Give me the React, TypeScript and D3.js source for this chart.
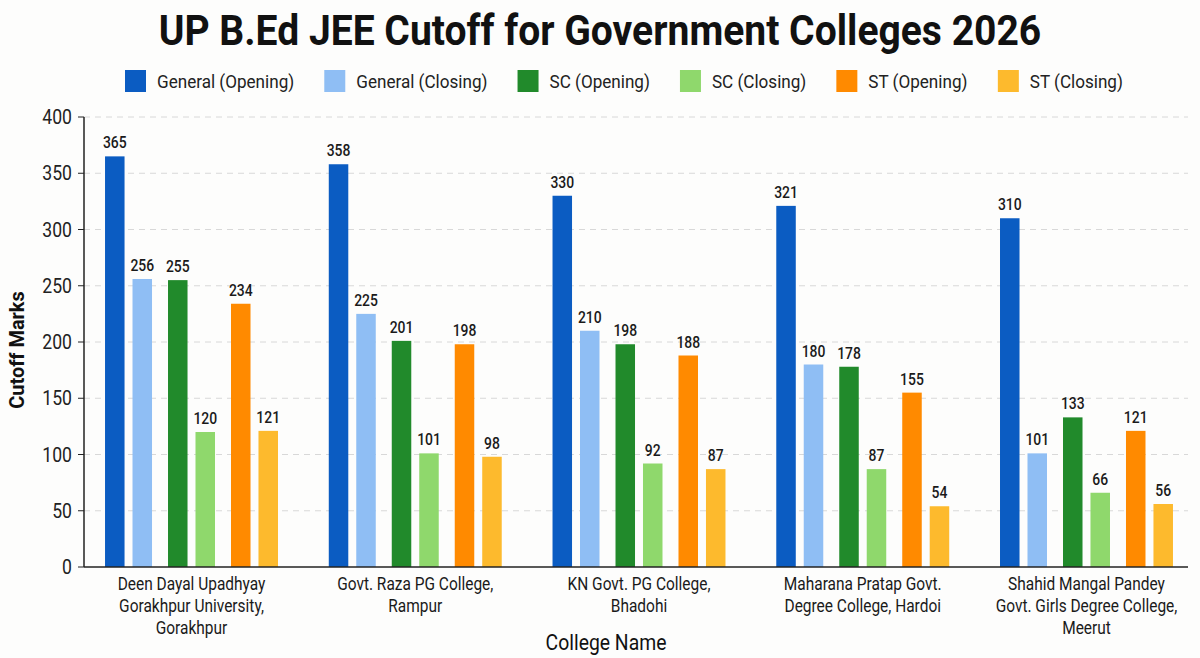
import React, { useMemo } from "react";
import * as d3 from "d3";

const WIDTH = 1200;
const HEIGHT = 658;
const MARGIN = { top: 117, right: 12, bottom: 91, left: 84 };
const FONT = "Roboto, 'Liberation Sans', sans-serif";

// colleges (x axis), each label split into lines
const colleges = [
  ["Deen Dayal Upadhyay", "Gorakhpur University,", "Gorakhpur"],
  ["Govt. Raza  PG College,", "Rampur"],
  ["KN Govt. PG College,", "Bhadohi"],
  ["Maharana Pratap Govt.", "Degree College, Hardoi"],
  ["Shahid Mangal Pandey", "Govt. Girls Degree College,", "Meerut"],
];

const categories = ["General", "SC", "ST"];
const kinds = ["Opening", "Closing"];
const seriesNames = [
  "General (Opening)",
  "General (Closing)",
  "SC (Opening)",
  "SC (Closing)",
  "ST (Opening)",
  "ST (Closing)",
];
const seriesColors = ["#0b5cc2", "#8fbef4", "#218a2b", "#8fd86c", "#ff8a00", "#fdba2d"];

const generalOpening = [365, 358, 330, 321, 310];
const generalClosing = [256, 225, 210, 180, 101];
const scOpening = [255, 201, 198, 178, 133];
const scClosing = [120, 101, 92, 87, 66];
const stOpening = [234, 198, 188, 155, 121];
const stClosing = [121, 98, 87, 54, 56];
const seriesValues = [generalOpening, generalClosing, scOpening, scClosing, stOpening, stClosing];

const yTicks = [0, 50, 100, 150, 200, 250, 300, 350, 400];

const measure = (text: string, font: string) => {
  const ctx = document.createElement("canvas").getContext("2d");
  if (!ctx) return text.length * 8;
  ctx.font = font;
  return ctx.measureText(text).width;
};

// narrow text: squeeze horizontally around its own x
const NText = ({ x = 0, y = 0, sx = 0.88, children, ...rest }: any) => (
  <text transform={`translate(${x},${y}) scale(${sx},1)`} {...rest}>
    {children}
  </text>
);

export default function App() {
  const boundsWidth = WIDTH - MARGIN.left - MARGIN.right;
  const boundsHeight = HEIGHT - MARGIN.top - MARGIN.bottom;
  const groupKeys = colleges.map((c, i) => String(i));

  const x0 = useMemo(
    () =>
      d3.scaleBand().domain(groupKeys).range([0, boundsWidth + 6]).paddingInner(0.227).paddingOuter(0.094),
    [boundsWidth]
  );
  const xCat = useMemo(
    () => d3.scaleBand().domain(categories).range([0, x0.bandwidth()]).paddingInner(0.254),
    [x0]
  );
  const xKind = useMemo(
    () => d3.scaleBand().domain(kinds).range([0, xCat.bandwidth()]).paddingInner(0.29),
    [xCat]
  );
  const y = useMemo(() => d3.scaleLinear().domain([0, 400]).range([boundsHeight, 0]), [boundsHeight]);

  const barX = (si: number) => (xCat(categories[Math.floor(si / 2)]) ?? 0) + (xKind(kinds[si % 2]) ?? 0);
  const barW = xKind.bandwidth();

  // legend layout from measured text widths
  const legendSx = 0.9;
  const legendFont = `19px ${FONT}`;
  const legendItems: any[] = [];
  let cursor = 0;
  seriesNames.forEach((name, i) => {
    const w = measure(name, legendFont) * legendSx;
    legendItems.push({ name, color: seriesColors[i], x: cursor, w });
    cursor += 21 + 11 + w + 30;
  });
  const legendStart = 125;

  return (
    <svg
      width={WIDTH}
      height={HEIGHT}
      style={{ position: "absolute", left: 0, top: 0, background: "#fdfdfc" }}
      fontFamily={FONT}
    >
      <rect width={WIDTH} height={HEIGHT} fill="#fdfdfc" />
      <NText x={WIDTH / 2} y={45} sx={0.93} textAnchor="middle" fontSize={42} fontWeight="bold" fill="#111">
        UP B.Ed JEE Cutoff for Government Colleges 2026
      </NText>

      <g transform={`translate(${legendStart},70)`}>
        {legendItems.map((d) => (
          <g key={d.name} transform={`translate(${d.x},0)`}>
            <rect width={21} height={22} fill={d.color} />
            <NText x={32} y={18} sx={legendSx} fontSize={19} fill="#222">
              {d.name}
            </NText>
          </g>
        ))}
      </g>

      <g transform={`translate(${MARGIN.left},${MARGIN.top})`}>
        {yTicks.map((t) => (
          <g key={t} transform={`translate(0,${y(t)})`}>
            {t > 0 && <line x1={0} x2={boundsWidth} stroke="#d8d8d8" strokeDasharray="6,5" />}
            <line x1={-6} x2={0} stroke="#222" />
            <NText x={-12} y={0} sx={0.88} dy="0.35em" textAnchor="end" fontSize={20} fill="#222">
              {t}
            </NText>
          </g>
        ))}

        {colleges.map((lines, gi) => (
          <g key={gi} transform={`translate(${x0(String(gi))},0)`}>
            {seriesNames.map((s, si) => {
              const v = seriesValues[si][gi];
              const bx = barX(si);
              return (
                <g key={s}>
                  <rect x={bx} y={y(v)} width={barW} height={boundsHeight - y(v)} fill={seriesColors[si]} />
                  <NText
                    x={bx + barW / 2}
                    y={y(v) - 8}
                    sx={0.82}
                    textAnchor="middle"
                    fontSize={17}
                    fontWeight={500}
                    fill="#1a1a1a"
                  >
                    {v}
                  </NText>
                </g>
              );
            })}
            <NText x={x0.bandwidth() / 2} y={0} sx={0.86} textAnchor="middle" fontSize={18} fill="#1a1a1a">
              {lines.map((l, li) => (
                <tspan key={li} x={0} y={boundsHeight + 23 + li * 22}>
                  {l}
                </tspan>
              ))}
            </NText>
          </g>
        ))}

        <line x1={0} x2={0} y1={0} y2={boundsHeight} stroke="#222" strokeWidth={1.5} />
        <line x1={0} x2={boundsWidth} y1={boundsHeight} y2={boundsHeight} stroke="#222" strokeWidth={1.5} />
      </g>

      <text
        transform={`translate(24,${MARGIN.top + boundsHeight / 2 + 8}) rotate(-90) scale(0.95,1)`}
        textAnchor="middle"
        fontSize={21}
        fontWeight="bold"
        fill="#111"
      >
        Cutoff Marks
      </text>
      <NText x={WIDTH / 2 + 6} y={650} sx={0.88} textAnchor="middle" fontSize={22} fill="#111">
        College Name
      </NText>
    </svg>
  );
}
